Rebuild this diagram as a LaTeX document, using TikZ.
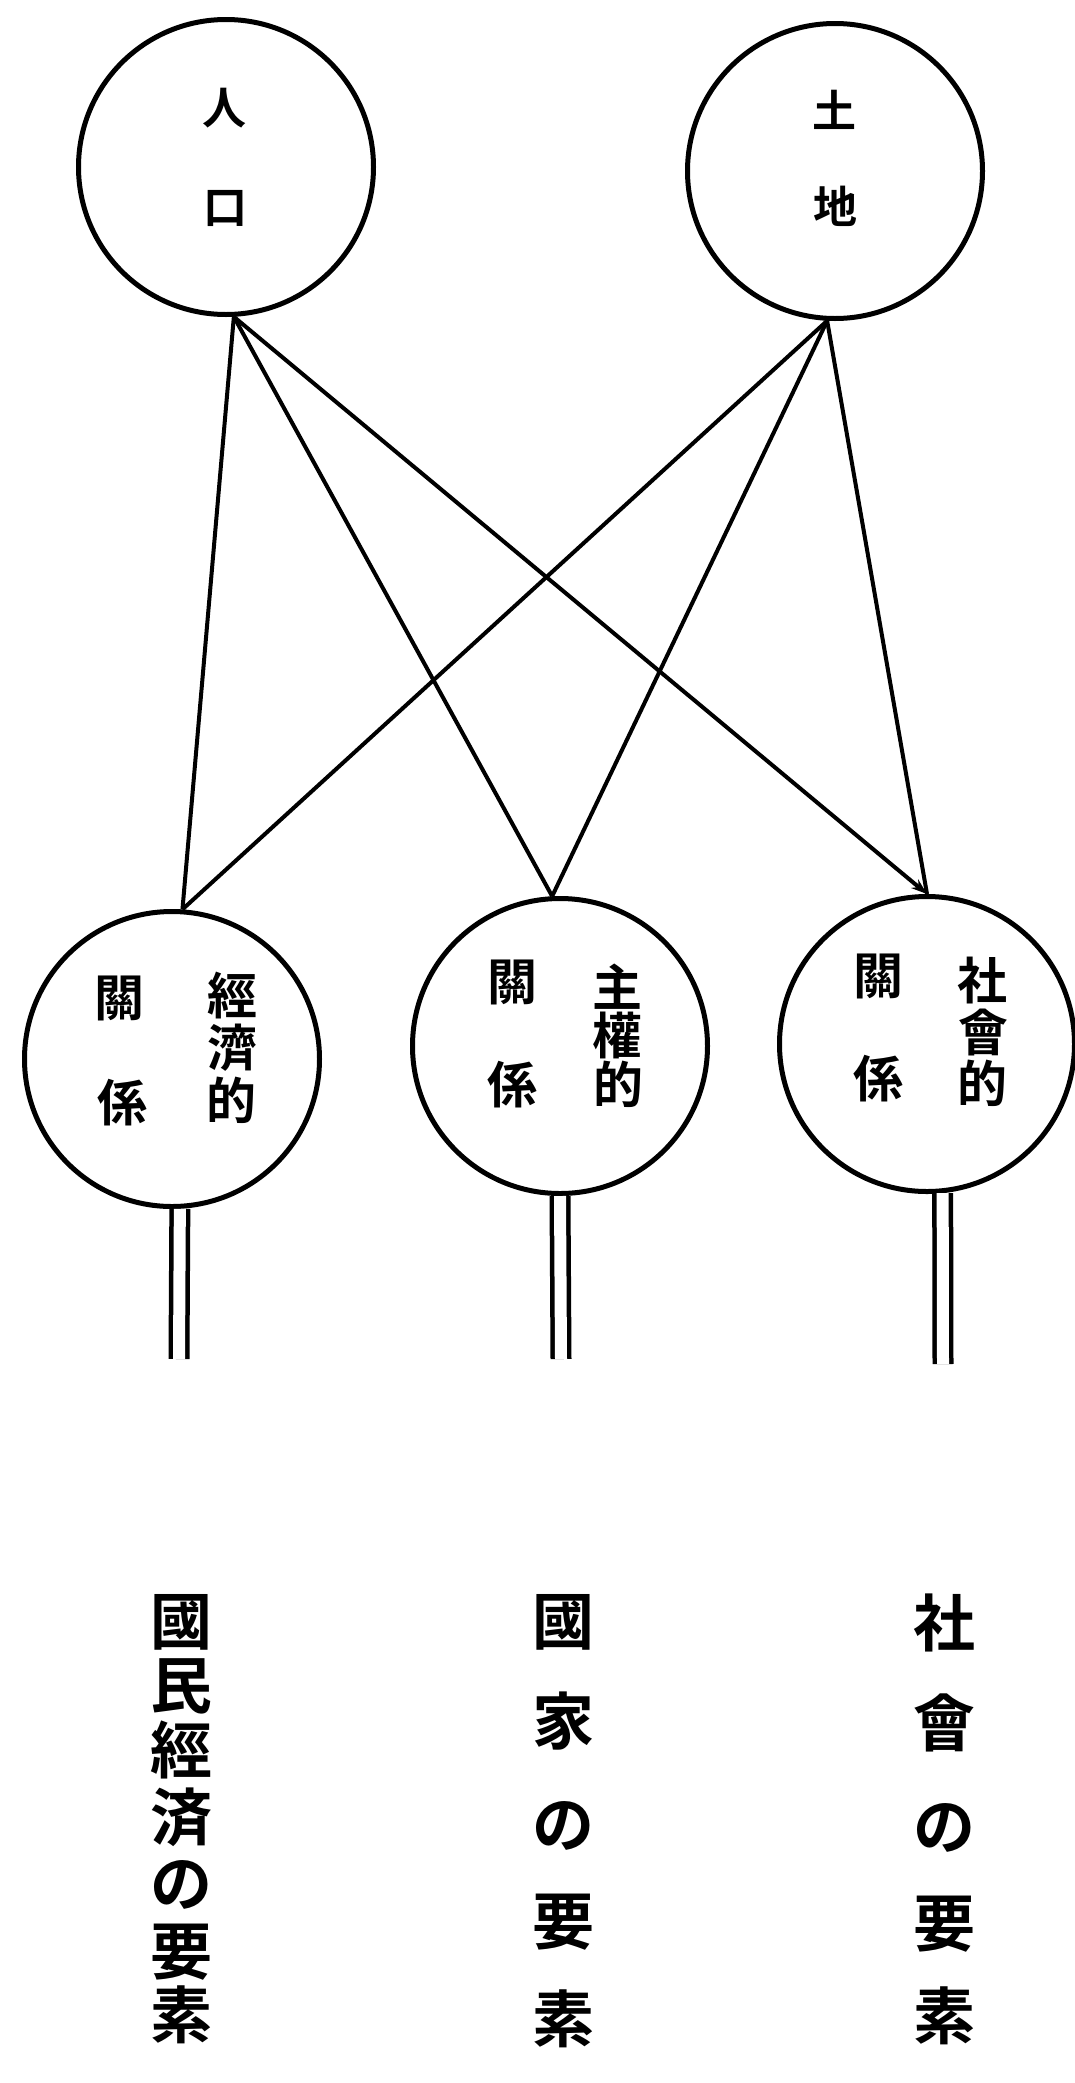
\documentclass[tikz,border=0pt]{standalone}
\usepackage{fontspec}
\usetikzlibrary{arrows.meta}
\newfontfamily\cjk{Noto Sans CJK JP}[BoldFont={* Bold}]
\begin{document}
\begin{tikzpicture}[x=1pt,y=-1pt,
  ring/.style={circle, draw, line width=5pt, minimum size=295pt, inner sep=0pt},
  link/.style={line width=4pt},
  stem/.style={double, double distance=12pt, line width=4.5pt},
  glyph/.style={inner sep=0pt, text height=0.88em, text depth=0.12em},
  toplbl/.style={glyph, font=\cjk\bfseries\fontsize{44}{44}\selectfont},
  midlbl/.style={glyph, font=\cjk\bfseries\fontsize{50}{50}\selectfont},
  botlbl/.style={glyph, font=\cjk\bfseries\fontsize{62}{62}\selectfont}]
\useasboundingbox (0,0) rectangle (1074,2083);

% circles
\node[ring] (P) at (226,167) {};
\node[ring] (L) at (835,171) {};
\node[ring] (E) at (172,1059) {};
\node[ring] (S) at (560,1046) {};
\node[ring] (R) at (927,1044) {};

% top labels
\node[toplbl] (p1) at (224,121) {人};
\node[toplbl] (p2) at (225,220) {口};
\node[toplbl] (l1) at (834,124) {土};
\node[toplbl] (l2) at (835,220) {地};

% circle labels
\node[midlbl] (e1) at (119,1013) {關};
\node[midlbl] (e2) at (122,1118) {係};
\node[midlbl] (e3) at (232,1011) {經};
\node[midlbl] (e4) at (232,1063) {濟};
\node[midlbl] (e5) at (231,1116) {的};

\node[midlbl] (s1) at (512,997) {關};
\node[midlbl] (s2) at (512,1100) {係};
\node[midlbl] (s3) at (617,1003) {主};
\node[midlbl] (s4) at (617,1051) {權};
\node[midlbl] (s5) at (618,1100) {的};

\node[midlbl] (r1) at (878,991) {關};
\node[midlbl] (r2) at (878,1094) {係};
\node[midlbl] (r3) at (982,996) {社};
\node[midlbl] (r4) at (983,1048) {會};
\node[midlbl] (r5) at (982,1099) {的};

% connectors
\draw[link] (P.-87) -- (E.86);
\draw[link] (P.-87) -- (S.93);
\draw[link, -{Stealth[length=16pt,width=11pt]}] (P.-87) -- (R.north);
\draw[link] (L.-93) -- (E.86);
\draw[link] (L.-93) -- (S.93);
\draw[link] (L.-93) -- (R.north);

% stems
\coordinate (Ee) at (179,1359);
\coordinate (Se) at (561,1359);
\coordinate (Re) at (943,1364);
\draw[stem] (E.-87) -- (Ee);
\draw[stem] (S.south) -- (Se);
\draw[stem] (R.-84) -- (Re);

% bottom labels
\node[botlbl] (a1) at (181,1641) {國};
\node[botlbl] (a2) at (181,1705) {民};
\node[botlbl] (a3) at (181,1770) {經};
\node[botlbl] (a4) at (181,1837) {済};
\node[botlbl] (a5) at (181,1903) {の};
\node[botlbl] (a6) at (181,1971) {要};
\node[botlbl] (a7) at (181,2035) {素};

\node[botlbl] (b1) at (563,1641) {國};
\node[botlbl] (b2) at (563,1741) {家};
\node[botlbl] (b3) at (563,1844) {の};
\node[botlbl] (b4) at (563,1941) {要};
\node[botlbl] (b5) at (563,2039) {素};

\node[botlbl] (c1) at (944,1643) {社};
\node[botlbl] (c2) at (944,1743) {會};
\node[botlbl] (c3) at (944,1846) {の};
\node[botlbl] (c4) at (944,1943) {要};
\node[botlbl] (c5) at (944,2036) {素};
\end{tikzpicture}
\end{document}
